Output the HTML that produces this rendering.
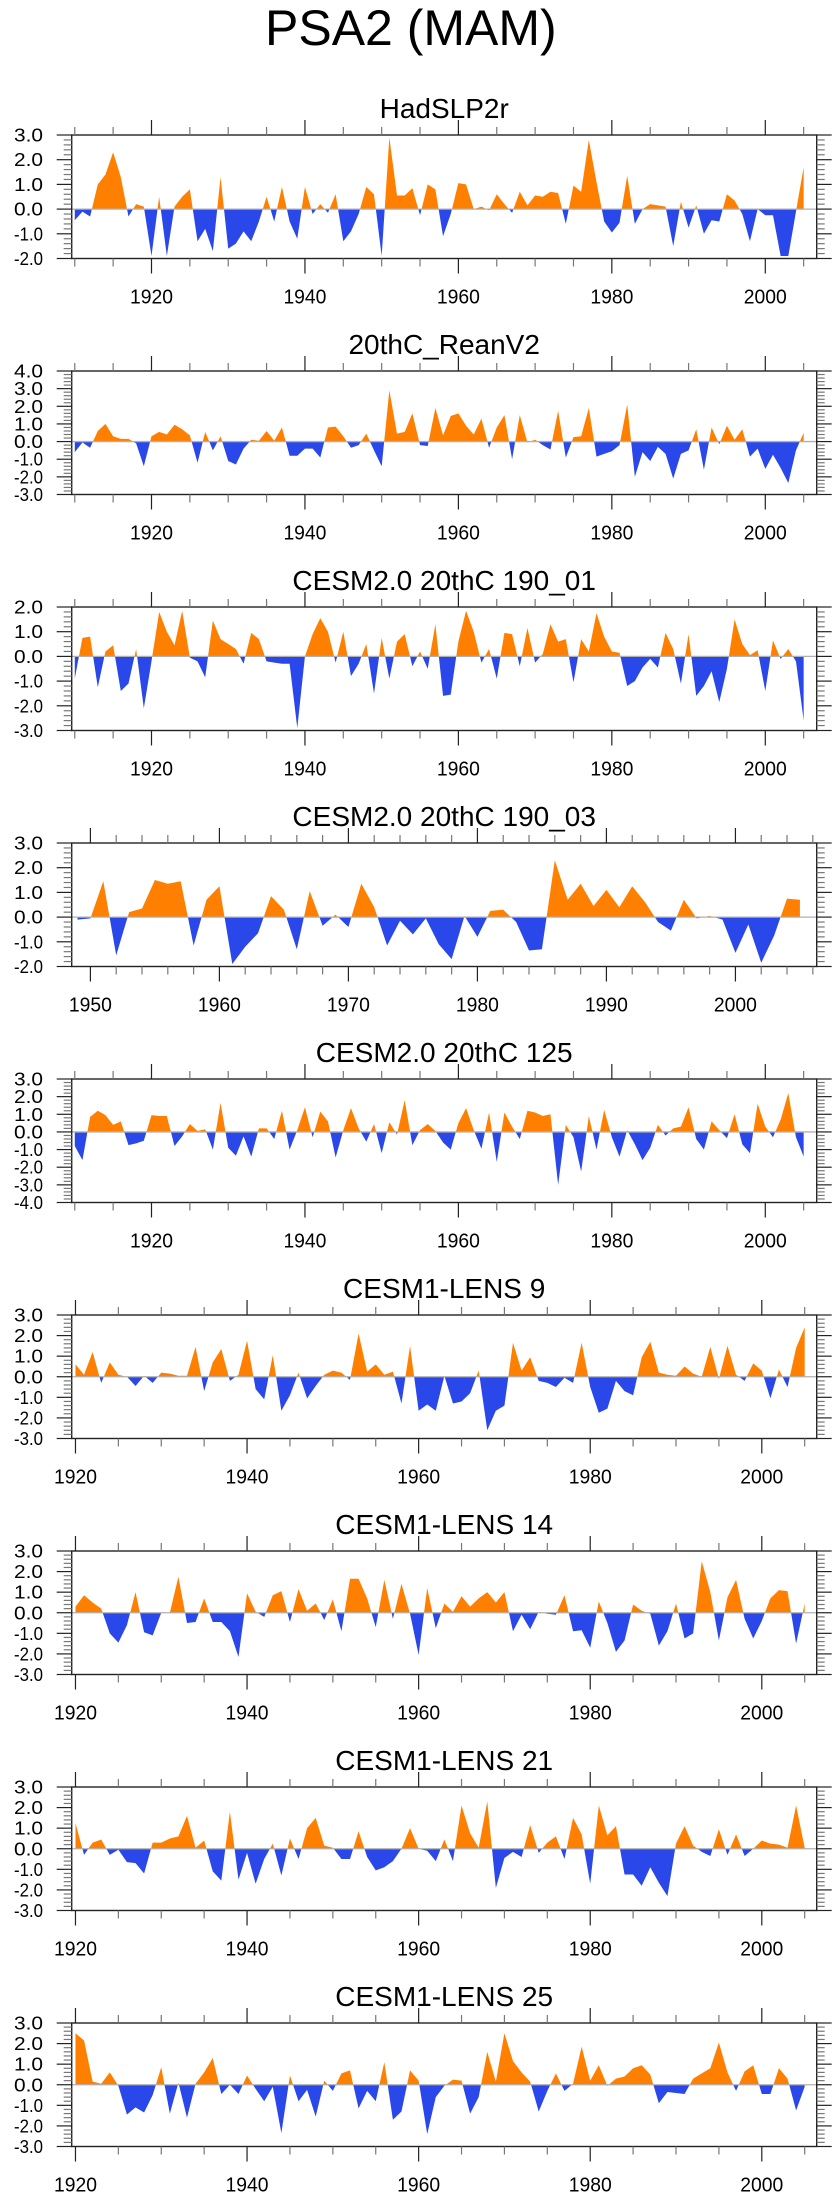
<!DOCTYPE html>
<html><head><meta charset="utf-8"><title>PSA2 (MAM)</title>
<style>
html,body{margin:0;padding:0;background:#fff;}
svg{display:block;font-family:"Liberation Sans",Arial,sans-serif;}
</style></head>
<body>
<svg id="fig" width="840" height="2200" viewBox="0 0 840 2200" xmlns="http://www.w3.org/2000/svg">
<text x="265" y="45" font-size="50" fill="#000">PSA2 (MAM)</text>
</svg>
<script>
const titles = ["HadSLP2r","20thC_ReanV2","CESM2.0 20thC 190_01","CESM2.0 20thC 190_03","CESM2.0 20thC 125","CESM1-LENS 9","CESM1-LENS 14","CESM1-LENS 21","CESM1-LENS 25"];
const startYears = [1910,1910,1910,1949,1910,1920,1920,1920,1920];
const yMins = [-2,-3,-3,-2,-4,-3,-3,-3,-3];
const yMaxs = [3,4,2,3,3,3,3,3,3];
const xMins = [1909.6,1909.6,1909.6,1948.55,1909.6,1919.56,1919.56,1919.56,1919.56];
const xMaxs = [2006.7,2006.7,2006.7,2006.3,2006.7,2006.4,2006.4,2006.4,2006.4];
const xMajorTicks = [[1920,1940,1960,1980,2000],[1920,1940,1960,1980,2000],[1920,1940,1960,1980,2000],[1950,1960,1970,1980,1990,2000],[1920,1940,1960,1980,2000],[1920,1940,1960,1980,2000],[1920,1940,1960,1980,2000],[1920,1940,1960,1980,2000],[1920,1940,1960,1980,2000]];
const xMinorSteps = [5,5,5,2,5,5,5,5,5];

const hadslp2r = [-0.45,-0.1,-0.3,1.0,1.4,2.3,1.3,-0.3,0.2,0.1,
-1.9,0.5,-1.9,0.1,0.5,0.8,-1.3,-0.8,-1.7,1.3,
-1.6,-1.4,-0.9,-1.3,-0.5,0.5,-0.5,0.9,-0.5,-1.2,
0.9,-0.2,0.2,-0.15,0.6,-1.3,-0.9,-0.2,0.9,0.6,
-1.9,2.9,0.55,0.55,0.85,-0.25,1.0,0.8,-1.1,-0.2,
1.05,1.0,0.0,0.1,-0.05,0.6,0.2,-0.15,0.7,0.15,
0.55,0.5,0.7,0.65,-0.6,0.95,0.7,2.8,1.1,-0.5,
-0.95,-0.55,1.35,-0.6,0.0,0.2,0.15,0.1,-1.5,0.3,
-0.75,0.15,-1.0,-0.45,-0.5,0.6,0.35,-0.2,-1.3,0.0,
-0.25,-0.25,-1.9,-1.9,-0.1,1.7];
const reanV2 = [-0.6,-0.05,-0.35,0.6,1.0,0.3,0.15,0.15,-0.1,-1.4,
0.3,0.55,0.4,0.95,0.7,0.35,-1.2,0.55,-0.5,0.3,
-1.1,-1.3,-0.4,0.1,0.05,0.6,0.05,0.8,-0.8,-0.8,
-0.4,-0.4,-0.9,0.8,0.85,0.3,-0.35,-0.2,0.45,-0.5,
-1.4,2.9,0.45,0.55,1.6,-0.2,-0.25,1.9,0.35,1.45,
1.6,0.9,0.4,1.3,-0.35,0.8,1.5,-1.0,1.5,-0.05,
0.1,-0.2,-0.45,1.75,-0.9,0.25,0.3,1.9,-0.85,-0.7,
-0.55,-0.2,2.1,-2.0,-0.6,-1.1,-0.3,-0.7,-2.1,-0.7,
-0.5,0.7,-1.6,0.8,-0.15,0.9,0.1,0.7,-0.85,-0.4,
-1.55,-0.75,-1.5,-2.35,-0.5,0.5];
const cesm2_190_01 = [-0.9,0.75,0.8,-1.25,0.2,0.45,-1.4,-1.1,0.3,-2.1,
-0.2,1.8,1.0,0.45,1.85,-0.05,-0.2,-0.85,1.45,0.7,
0.5,0.3,-0.3,0.95,0.7,-0.2,-0.25,-0.3,-0.3,-2.9,
0.0,0.9,1.55,1.0,-0.25,1.0,-0.8,-0.3,0.5,-1.5,
0.75,-0.9,0.6,0.9,-0.4,0.2,-0.5,1.3,-1.6,-1.55,
0.6,1.85,1.0,-0.25,0.3,-0.9,0.95,0.9,-0.4,1.15,
-0.25,0.1,1.3,0.6,0.7,-1.05,0.7,0.2,1.75,0.8,
0.2,0.15,-1.2,-1.0,-0.45,-0.1,-0.45,0.95,0.3,-1.1,
0.9,-1.6,-1.2,-0.6,-1.85,-0.5,1.5,0.5,0.05,0.25,
-1.4,0.65,-0.1,0.3,-0.2,-2.6];
const cesm2_190_03 = [-0.1,-0.05,1.45,-1.55,0.2,0.35,1.5,1.35,1.45,-1.15,
0.7,1.25,-1.9,-1.2,-0.65,0.85,0.3,-1.3,1.05,-0.35,
0.1,-0.4,1.35,0.4,-1.15,-0.15,-0.7,-0.05,-1.1,-1.7,
0.05,-0.8,0.25,0.3,-0.2,-1.35,-1.3,2.3,0.7,1.35,
0.45,1.1,0.4,1.25,0.6,-0.2,-0.55,0.7,-0.05,0.05,
-0.1,-1.45,-0.3,-1.85,-0.75,0.75,0.7];
const cesm2_125 = [-0.8,-1.6,0.85,1.2,0.95,0.4,0.6,-0.75,-0.65,-0.5,
0.95,0.9,0.9,-0.8,-0.25,0.45,0.05,0.15,-1.0,1.65,
-0.9,-1.35,-0.25,-1.4,0.2,0.2,-0.4,1.2,-1.0,0.1,
1.4,-0.3,1.15,0.6,-1.45,0.1,1.35,0.2,-0.55,0.45,
-1.2,0.55,-0.15,1.8,-0.75,0.1,0.45,0.05,-0.6,-1.0,
0.5,1.35,0.1,-0.95,1.1,-1.7,1.1,0.3,-0.4,1.2,
1.1,0.9,1.0,-3.0,0.4,-0.3,-2.25,0.9,-1.0,1.25,
-0.3,-1.4,0.1,-0.7,-1.6,-0.9,0.4,-0.2,0.2,0.3,
1.4,-0.4,-1.0,0.6,0.1,-0.35,1.0,-0.7,-1.2,1.6,
0.3,-0.3,0.7,2.2,-0.3,-1.4];
const lens9 = [0.6,0.1,1.2,-0.3,0.7,0.1,0.0,-0.45,0.05,-0.3,
0.2,0.15,0.05,0.05,1.45,-0.7,0.7,1.35,-0.2,0.1,
1.75,-0.6,-1.1,1.05,-1.65,-0.9,0.2,-1.05,-0.45,0.1,
0.3,0.2,-0.15,2.1,0.25,0.6,0.1,0.25,-1.3,1.5,
-1.65,-1.35,-1.65,0.05,-1.3,-1.2,-0.8,0.3,-2.6,-1.65,
-1.4,1.65,0.3,0.95,-0.2,-0.3,-0.5,-0.05,-0.3,1.65,
-0.5,-1.75,-1.55,-0.2,-0.7,-0.9,0.95,1.7,0.2,0.1,
0.05,0.5,0.15,0.0,1.45,-0.1,1.5,0.1,-0.2,0.65,
0.3,-1.05,0.35,-0.5,1.4,2.4];
const lens14 = [0.3,0.85,0.5,0.2,-1.0,-1.45,-0.6,1.0,-0.95,-1.1,
0.0,0.0,1.75,-0.5,-0.45,0.7,-0.45,-0.45,-0.9,-2.15,
0.95,0.05,-0.2,0.85,1.05,-0.45,1.15,0.1,0.45,-0.35,
0.65,-0.9,1.65,1.65,0.7,-0.7,1.6,-0.3,1.4,-0.05,
-2.05,1.2,-0.75,0.45,0.05,0.8,0.3,0.7,1.0,0.5,
1.0,-0.9,-0.1,-0.8,0.05,-0.05,-0.1,0.85,-0.9,-0.85,
-1.7,0.55,-0.5,-1.9,-1.35,0.4,0.1,-0.05,-1.6,-0.9,
0.45,-1.25,-1.0,2.5,1.0,-1.35,0.75,1.6,-0.3,-1.25,
-0.4,0.7,1.1,1.05,-1.5,0.45];
const lens21 = [1.25,-0.3,0.3,0.45,-0.3,-0.05,-0.65,-0.7,-1.2,0.3,
0.3,0.5,0.6,1.6,0.05,0.4,-1.1,-1.55,1.8,-1.5,
-0.2,-1.7,-0.5,0.25,-1.3,0.5,-0.5,1.0,1.5,0.15,
0.05,-0.5,-0.5,0.85,-0.4,-1.05,-0.9,-0.6,0.0,1.0,
0.0,-0.1,-0.6,0.45,-0.6,2.1,0.75,0.05,2.3,-1.9,
-0.45,-0.15,-0.4,1.15,-0.2,0.3,0.6,-0.5,1.5,0.7,
-1.7,2.1,0.65,1.1,-1.25,-1.25,-1.8,-0.9,-1.65,-2.3,
0.25,1.1,0.15,-0.15,-0.35,0.95,-0.3,0.7,-0.35,0.0,
0.4,0.25,0.2,0.05,2.1,0.05];
const lens25 = [2.5,2.15,0.15,0.05,0.6,-0.05,-1.45,-1.1,-1.35,-0.5,
0.85,-1.4,0.1,-1.6,0.05,0.6,1.3,-0.45,0.0,-0.45,
0.45,-0.2,-0.8,-0.1,-2.35,0.45,-0.8,-0.25,-1.55,0.2,
-0.3,0.55,0.7,-1.15,-0.3,-0.8,1.1,-1.7,-1.3,0.7,
0.2,-2.4,-0.6,-0.05,0.25,0.2,-1.4,-0.6,1.6,0.15,
2.5,1.15,0.6,0.15,-1.3,-0.3,0.55,-0.3,0.05,1.85,
0.2,0.95,-0.05,0.3,0.4,0.8,0.95,0.5,-0.9,-0.35,
-0.4,-0.45,0.3,0.55,0.8,2.05,0.6,-0.3,0.65,0.95,
-0.45,-0.45,0.8,0.3,-1.25,-0.1];

const series = [hadslp2r, reanV2, cesm2_190_01, cesm2_190_03, cesm2_125, lens9, lens14, lens21, lens25];

const NS = "http://www.w3.org/2000/svg";
const svg = document.getElementById("fig");
const L = 71.7, R = 816.7, H = 123.5;
const ORANGE = "#ff8000", BLUE = "#2a48ea";
function mk(tag, attrs, parent) {
  const e = document.createElementNS(NS, tag);
  for (const k in attrs) e.setAttribute(k, attrs[k]);
  (parent || svg).appendChild(e);
  return e;
}
function fmt(v){ return (v<0?"-":"") + Math.abs(v).toFixed(1); }

for (let p = 0; p < series.length; p++) {
  const top = 135 + 236 * p, bot = top + H;
  const xmin = xMins[p], xmax = xMaxs[p], ymin = yMins[p], ymax = yMaxs[p];
  const xs = yr => L + (yr - xmin) / (xmax - xmin) * (R - L);
  const ys = v => bot - (v - ymin) / (ymax - ymin) * H;
  const g = mk("g", {});
  
  

  const t = mk("text", {x: (L + R) / 2, y: top - 17, "font-size": 28, "text-anchor": "middle", fill: "#000"}, g);
  
  
  t.textContent = titles[p];

  const vals = series[p], y0 = ys(0);
  let d = "M" + xs(startYears[p]).toFixed(2) + "," + y0.toFixed(2);
  vals.forEach((v, i) => { d += " L" + xs(startYears[p] + i).toFixed(2) + "," + ys(v).toFixed(2); });
  d += " L" + xs(startYears[p] + vals.length - 1).toFixed(2) + "," + y0.toFixed(2) + " Z";
  const cpA = mk("clipPath", {id: "ca" + p}, g);
  mk("rect", {x: L, y: top - 5, width: R - L, height: y0 - top + 5}, cpA);
  const cpB = mk("clipPath", {id: "cb" + p}, g);
  mk("rect", {x: L, y: y0, width: R - L, height: bot - y0 + 5}, cpB);
  const pa = mk("path", {d: d, fill: ORANGE, "clip-path": "url(#ca" + p + ")"}, g);
  
  
  const pb = mk("path", {d: d, fill: BLUE, "clip-path": "url(#cb" + p + ")"}, g);
  
  

  const zl = mk("line", {x1: L, x2: R, y1: y0, y2: y0, stroke: "#b0b0b0", "stroke-width": 1.3}, g);
  
  

  const box = mk("rect", {x: L, y: top, width: R - L, height: H, fill: "none", stroke: "#222", "stroke-width": 1.4}, g);
  
  

  for (let k = Math.round(ymin * 5); k <= Math.round(ymax * 5); k++) {
    const v = k / 5, yy = ys(v), major = (k % 5 === 0), len = major ? 15 : 8;
    const col = major ? "#222" : "#777";
    mk("line", {x1: L - len, x2: L, y1: yy, y2: yy, stroke: col, "stroke-width": 1.2}, g);
    mk("line", {x1: R, x2: R + len, y1: yy, y2: yy, stroke: col, "stroke-width": 1.2}, g);
    if (major) {
      const lb = mk("text", {x: 43, y: yy + 6.5, "font-size": 18, "text-anchor": "end", textLength: 29, lengthAdjust: "spacingAndGlyphs", fill: "#000"}, g);
      
      
      lb.textContent = fmt(v);
    }
  }
  const step = xMinorSteps[p];
  for (let yr = Math.ceil(xmin / step) * step; yr <= xmax; yr += step) {
    const xx = xs(yr), major = xMajorTicks[p].indexOf(yr) >= 0, len = major ? 15 : 8;
    const col = major ? "#222" : "#777";
    mk("line", {x1: xx, x2: xx, y1: top - len, y2: top, stroke: col, "stroke-width": 1.2}, g);
    mk("line", {x1: xx, x2: xx, y1: bot, y2: bot + len, stroke: col, "stroke-width": 1.2}, g);
  }
  xMajorTicks[p].forEach(yr => {
    const lb = mk("text", {x: xs(yr), y: bot + 45, "font-size": 20, "text-anchor": "middle", textLength: 43, lengthAdjust: "spacingAndGlyphs", fill: "#000"}, g);
    
    
    lb.textContent = String(yr);
  });
}
</script>
</body></html>
